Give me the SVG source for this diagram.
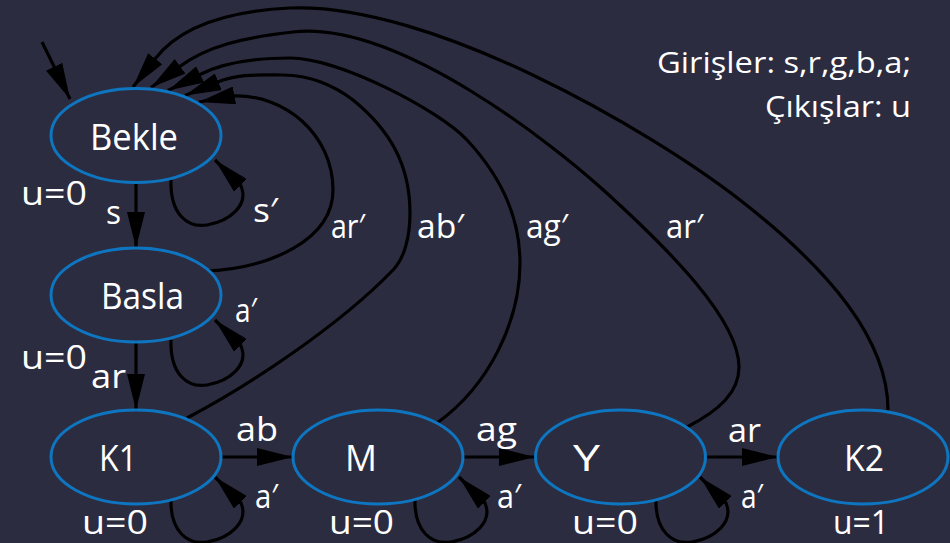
<svg xmlns="http://www.w3.org/2000/svg" width="950" height="543" viewBox="0 0 950 543">
<defs>
<marker id="ah" markerUnits="userSpaceOnUse" markerWidth="36" markerHeight="18" viewBox="0 0 36 18" refX="36" refY="9" orient="auto">
<path d="M0,0 L36,9 L0,18 z" fill="#000"/>
</marker>
<style>
.st{fill:#2c2c40;stroke:#0e75c0;stroke-width:3}
.e{fill:none;stroke:#000;stroke-width:3.2;marker-end:url(#ah)}
.n{font-family:"Open Sans","Noto Sans","DejaVu Sans",sans-serif;font-size:36px;fill:#fff}
.l{font-family:"Open Sans","Noto Sans","DejaVu Sans",sans-serif;font-size:32px;fill:#fff}
.g{font-family:"Open Sans","Noto Sans","DejaVu Sans",sans-serif;font-size:29px;fill:#fff;text-anchor:end}
</style>
</defs>
<rect width="950" height="543" fill="#2c2c40"/>
<g id="connectors">
<path class="e" d="M42,42 L70,99"/>
<path class="e" d="M136,183 L136,248"/>
<path class="e" d="M136,343 L136,410"/>
<path class="e" d="M221,457 L293,457"/>
<path class="e" d="M463,457 L535,457"/>
<path class="e" d="M706,457 L778,457"/>
<path class="e" d="M171,180 C170,215 188,228 207,225 C230,221 249,205 241,186 L215,160"/>
<path class="e" d="M171,340 C170,375 188,388 207,385 C230,381 249,365 241,346 L215,320"/>
<path class="e" d="M171,499 C170,532 188,545 207,542 C230,538 249,522 241,503 L215,477"/>
<path class="e" d="M415,499 C414,532 432,545 451,542 C474,538 493,522 485,503 L459,477"/>
<path class="e" d="M656,499 C655,532 673,545 692,542 C715,538 734,522 726,503 L700,477"/>
<path class="e" d="M888,410 C888,340 830,270 740,200 C650,130 430,2 290,8 C230,11 181,25 155,59 L133,87"/>
<path class="e" d="M687,427 C720,410 739,392 739,367 C739,320 670,250 600,187 C560,151 400,20 293,32 C243,37.6 207,46 179,67 L151,87.5"/>
<path class="e" d="M437,423 C490,385 520,320 520,263 C520,210 495,170 467,140 C440,111 340,58 290,58 C260,58 225.6,61.7 200,74.5 L168,90.5"/>
<path class="e" d="M187,418 C250,385 340,325 393,270 C405,257.5 410,235 410,213 C410,165 390,130 353,100 C335,86 310,75 283,75 C260,75 238.5,73.4 216.5,82.5 L185,95.5"/>
<path class="e" d="M207,271 C270,268 333,240 333,190 C333,135 285,93 231,96 L199,102"/>
</g>
<g id="labels">
<text class="l" x="106" y="224" textLength="15" lengthAdjust="spacingAndGlyphs">s</text>
<text class="l" x="253" y="222" textLength="25" lengthAdjust="spacingAndGlyphs">s′</text>
<text class="l" x="331" y="238" textLength="34" lengthAdjust="spacingAndGlyphs">ar′</text>
<text class="l" x="417" y="238" textLength="47" lengthAdjust="spacingAndGlyphs">ab′</text>
<text class="l" x="526" y="238" textLength="42" lengthAdjust="spacingAndGlyphs">ag′</text>
<text class="l" x="666" y="238" textLength="37" lengthAdjust="spacingAndGlyphs">ar′</text>
<text class="l" x="235" y="322" textLength="22" lengthAdjust="spacingAndGlyphs">a′</text>
<text class="l" x="91" y="388" textLength="35" lengthAdjust="spacingAndGlyphs">ar</text>
<text class="l" x="236" y="441" textLength="42" lengthAdjust="spacingAndGlyphs">ab</text>
<text class="l" x="255" y="508" textLength="23" lengthAdjust="spacingAndGlyphs">a′</text>
<text class="l" x="476" y="441" textLength="41" lengthAdjust="spacingAndGlyphs">ag</text>
<text class="l" x="497" y="508" textLength="24" lengthAdjust="spacingAndGlyphs">a′</text>
<text class="l" x="728" y="442" textLength="33" lengthAdjust="spacingAndGlyphs">ar</text>
<text class="l" x="741" y="508" textLength="22" lengthAdjust="spacingAndGlyphs">a′</text>
<text class="g" x="911" y="73" textLength="254" lengthAdjust="spacingAndGlyphs">Girişler: s,r,g,b,a;</text>
<text class="g" x="911" y="117" textLength="146" lengthAdjust="spacingAndGlyphs">Çıkışlar: u</text>
</g>
<g id="Bekle">
<ellipse class="st" cx="136" cy="135.5" rx="85" ry="47"/>
<text class="n" x="90" y="150" textLength="88" lengthAdjust="spacingAndGlyphs">Bekle</text>
<text class="l" x="21" y="205" textLength="66" lengthAdjust="spacingAndGlyphs">u=0</text>
</g>
<g id="Basla">
<ellipse class="st" cx="136" cy="295" rx="85" ry="47"/>
<text class="n" x="101" y="309" textLength="83" lengthAdjust="spacingAndGlyphs">Basla</text>
<text class="l" x="21" y="369" textLength="66" lengthAdjust="spacingAndGlyphs">u=0</text>
</g>
<g id="K1">
<ellipse class="st" cx="136" cy="457" rx="85" ry="47"/>
<text class="n" x="99" y="471" textLength="38" lengthAdjust="spacingAndGlyphs">K1</text>
<text class="l" x="82" y="534" textLength="66" lengthAdjust="spacingAndGlyphs">u=0</text>
</g>
<g id="M">
<ellipse class="st" cx="378" cy="457" rx="85" ry="47"/>
<text class="n" x="345" y="471" textLength="32" lengthAdjust="spacingAndGlyphs">M</text>
<text class="l" x="329" y="534" textLength="65" lengthAdjust="spacingAndGlyphs">u=0</text>
</g>
<g id="Y">
<ellipse class="st" cx="620.5" cy="457" rx="85" ry="47"/>
<text class="n" x="573" y="471" textLength="27" lengthAdjust="spacingAndGlyphs">Y</text>
<text class="l" x="572" y="534" textLength="66" lengthAdjust="spacingAndGlyphs">u=0</text>
</g>
<g id="K2">
<ellipse class="st" cx="863" cy="457" rx="85" ry="47"/>
<text class="n" x="844" y="471" textLength="40" lengthAdjust="spacingAndGlyphs">K2</text>
<text class="l" x="833" y="534" textLength="56" lengthAdjust="spacingAndGlyphs">u=1</text>
</g>
</svg>
